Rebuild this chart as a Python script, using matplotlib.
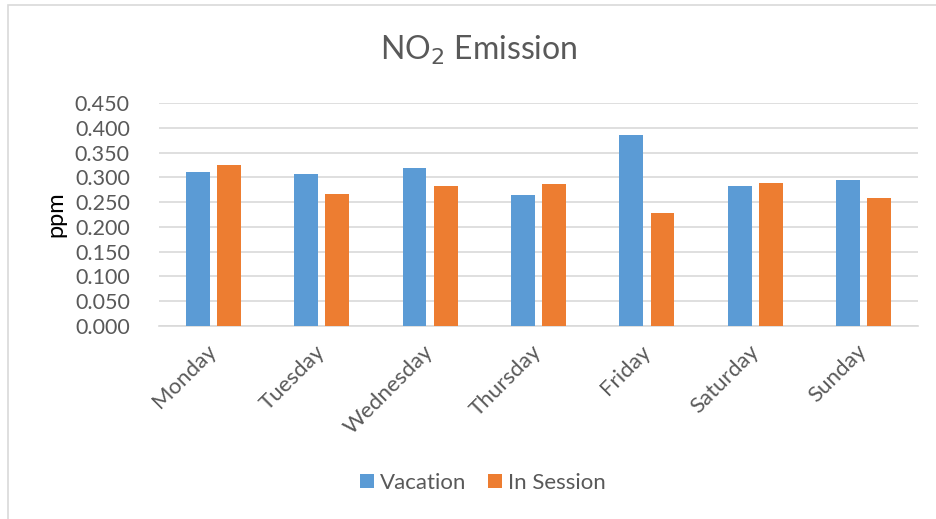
import numpy as np
import matplotlib.pyplot as plt
from matplotlib.patches import Rectangle

plt.rcParams['font.family'] = ['Lato', 'DejaVu Sans']

days = ['Monday', 'Tuesday', 'Wednesday', 'Thursday', 'Friday', 'Saturday', 'Sunday']
vacation = [0.311, 0.306, 0.318, 0.265, 0.385, 0.283, 0.294]
in_session = [0.324, 0.267, 0.283, 0.287, 0.229, 0.289, 0.258]
yticks = np.arange(0, 0.451, 0.05)

blue = '#5b9bd5'
orange = '#ed7d31'
grey = '#595959'

fig = plt.figure(figsize=(9.36, 5.19), dpi=100)
ax = fig.add_axes([159 / 936, 1 - 326 / 519, (918 - 159) / 936, (326 - 103) / 519])

x = np.arange(len(days))
w = 0.22
ax.bar(x - 0.143, vacation, w, color=blue, label='Vacation', zorder=3)
ax.bar(x + 0.143, in_session, w, color=orange, label='In Session', zorder=3)

ax.set_xlim(-0.5, len(days) - 0.5)
ax.set_ylim(0, 0.45)
ax.set_yticks(yticks)
ax.set_yticklabels([f'{v:.3f}' for v in yticks], fontsize=15.5, color=grey)
ax.set_xticks(x)
ax.set_xticklabels(days, rotation=45, ha='right', va='center',
                   rotation_mode='anchor', fontsize=16, color=grey)
ax.tick_params(axis='both', length=0)
ax.tick_params(axis='x', pad=16)
ax.tick_params(axis='y', pad=21)
ax.grid(axis='y', color='#d9d9d9', linewidth=1.2, zorder=0)
for s in ['top', 'right', 'left']:
    ax.spines[s].set_visible(False)
ax.spines['bottom'].set_color('#d9d9d9')
ax.spines['bottom'].set_linewidth(1.2)

ax.set_ylabel('ppm', fontsize=17, color='black', labelpad=6)
fig.text(0.511, 1 - 50 / 519, 'NO$_2$ Emission', fontsize=23, color=grey,
         ha='center', va='center')

fig.legend(loc='center', bbox_to_anchor=(0.516, 1 - 483 / 519), ncol=2,
           frameon=False, fontsize=16, labelcolor=grey, handlelength=0.62,
           handleheight=0.62, handletextpad=0.25, columnspacing=1.0)

# chart area border
fig.patches.append(Rectangle((8 / 936, -0.1), 1.1, 1.1 - 5.5 / 519,
                             transform=fig.transFigure, fill=False,
                             edgecolor='#d9d9d9', linewidth=1.2))

fig.savefig('out.png', dpi=100)
